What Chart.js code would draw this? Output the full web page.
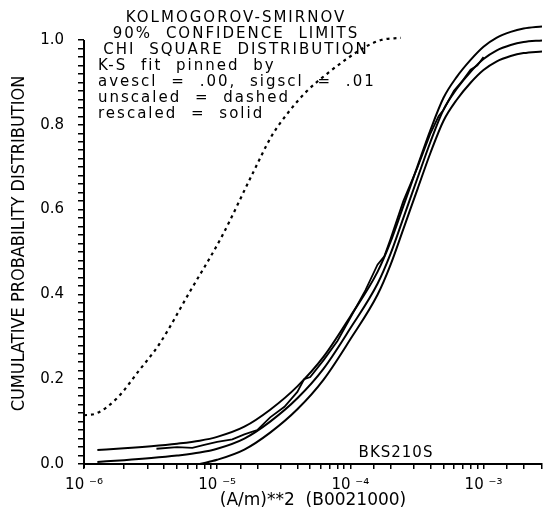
<!DOCTYPE html>
<html>
<head>
<meta charset="utf-8">
<script src="https://cdn.jsdelivr.net/npm/chart.js@4.4.0/dist/chart.umd.min.js"></script>
<style>
  html, body { margin: 0; padding: 0; background: #fff; }
  #wrap { width: 549px; height: 514px; }
</style>
</head>
<body>
<div id="wrap"><canvas id="ksChart"></canvas></div>
<script>
// ── K-S confidence limits, chi square fit ─────────────────────

// fitted curve and the two 90% limits share one x grid
const curveX  = [1.26e-6, 2e-6, 3.2e-6, 5e-6, 7.4e-6, 1e-5, 1.6e-5, 2.5e-5, 4e-5, 6.3e-5,
                 1e-4, 1.6e-4, 2e-4, 2.5e-4, 3.2e-4, 4e-4, 5e-4, 6.3e-4, 8e-4, 1e-3,
                 1.25e-3, 1.6e-3, 2e-3, 2.75e-3];
const fitY    = [0.005, 0.009, 0.014, 0.020, 0.027, 0.036, 0.060, 0.100, 0.155, 0.225,
                 0.320, 0.425, 0.495, 0.580, 0.675, 0.760, 0.835, 0.885, 0.925, 0.955,
                 0.975, 0.988, 0.995, 0.999];
const upperY  = [0.033, 0.037, 0.042, 0.048, 0.055, 0.064, 0.088, 0.128, 0.183, 0.253,
                 0.348, 0.453, 0.523, 0.608, 0.703, 0.788, 0.863, 0.913, 0.953, 0.984,
                 1.005, 1.019, 1.027, 1.032];
const lowerY  = [null, null, null, null, 0.000, 0.010, 0.034, 0.074, 0.129, 0.199,
                 0.294, 0.399, 0.469, 0.554, 0.649, 0.734, 0.809, 0.859, 0.899, 0.929,
                 0.949, 0.962, 0.969, 0.973];

// rescaled sample (solid, ragged)
const rescX   = [3.5e-6, 5e-6, 6.5e-6, 8e-6, 1e-5, 1.3e-5, 1.6e-5, 2e-5, 2.5e-5, 3.2e-5,
                 4e-5, 4.5e-5, 5e-5, 6.3e-5, 8e-5, 1e-4, 1.3e-4, 1.6e-4, 1.8e-4, 2e-4,
                 2.5e-4, 3.2e-4, 4e-4, 4.6e-4, 5e-4, 6e-4, 7e-4, 8e-4, 9e-4, 1e-3];
const rescY   = [0.036, 0.040, 0.038, 0.045, 0.052, 0.058, 0.070, 0.080, 0.110, 0.135,
                 0.170, 0.200, 0.205, 0.245, 0.290, 0.345, 0.410, 0.470, 0.490, 0.530,
                 0.620, 0.700, 0.780, 0.820, 0.835, 0.880, 0.905, 0.930, 0.940, 0.960];

// unscaled sample (dashed)
const unscX   = [1e-6, 1.23e-6, 1.78e-6, 2.57e-6, 3.7e-6, 6.2e-6, 1.09e-5, 1.82e-5, 2.57e-5,
                 3.44e-5, 4.6e-5, 6.85e-5, 9.66e-5, 1.3e-4, 1.7e-4, 2.4e-4];
const unscY   = [0.115, 0.119, 0.156, 0.219, 0.284, 0.405, 0.538, 0.681, 0.774,
                 0.830, 0.876, 0.923, 0.958, 0.984, 1.000, 1.005];

const yLabelTicks = [0.0, 0.2, 0.4, 0.6, 0.8, 1.0];
const yMinorStep  = 0.02;

const noteLinesCentered = ['KOLMOGOROV-SMIRNOV', '90% CONFIDENCE LIMITS', 'CHI SQUARE DISTRIBUTION'];
const noteLinesLeft     = ['K-S fit pinned by', 'avescl = .00, sigscl = .01',
                           'unscaled = dashed', 'rescaled = solid'];
const sampleTag = 'BKS210S';

const FONT = '"DejaVu Sans", sans-serif';
const SUP  = { '-': '\u207B', '0': '\u2070', '1': '\u00B9', '2': '\u00B2', '3': '\u00B3',
               '4': '\u2074', '5': '\u2075', '6': '\u2076', '7': '\u2077', '8': '\u2078', '9': '\u2079' };

function pts(xs, ys) {
  return xs.map((x, i) => ({ x: x, y: ys[i] }));
}

function supExp(n) {
  return String(n).split('').map(c => SUP[c] || c).join('');
}

const notesPlugin = {
  id: 'notes',
  afterDraw(chart) {
    const ctx = chart.ctx;
    const ys  = chart.scales.y;
    const left = chart.chartArea.left;
    ctx.save();
    // y axis line stops at 1.0
    ctx.strokeStyle = '#000';
    ctx.lineWidth = 2;
    ctx.beginPath();
    ctx.moveTo(left, ys.getPixelForValue(0) + 4);
    ctx.lineTo(left, ys.getPixelForValue(1.0));
    ctx.stroke();

    ctx.fillStyle = '#000';
    ctx.font = '15px ' + FONT;
    ctx.letterSpacing = '2px';
    ctx.wordSpacing = '7px';
    ctx.textBaseline = 'middle';
    ctx.textAlign = 'center';
    noteLinesCentered.forEach((t, i) => ctx.fillText(t, 236, 18 + i * 16));
    ctx.textAlign = 'left';
    noteLinesLeft.forEach((t, i) => ctx.fillText(t, 98, 66 + i * 16));
    ctx.letterSpacing = '1px';
    ctx.wordSpacing = '0px';
    ctx.textAlign = 'center';
    ctx.fillText(sampleTag, 396, 453);
    ctx.restore();
  }
};

const line = (data, extra) => Object.assign({
  data: data,
  borderColor: '#000',
  borderWidth: 2,
  pointRadius: 0,
  fill: false,
  cubicInterpolationMode: 'monotone'
}, extra || {});

new Chart(document.getElementById('ksChart'), {
  type: 'line',
  data: {
    datasets: [
      line(pts(curveX, upperY)),
      line(pts(curveX, fitY)),
      line(pts(curveX, lowerY)),
      line(pts(rescX, rescY), { borderWidth: 1.8, cubicInterpolationMode: 'default', tension: 0 }),
      line(pts(unscX, unscY), { borderDash: [3, 4], borderWidth: 2.2 })
    ]
  },
  options: {
    responsive: true,
    maintainAspectRatio: false,
    animation: false,
    devicePixelRatio: 1,
    layout: { padding: { top: 18, right: 0, bottom: 0, left: 0 } },
    plugins: { legend: { display: false }, tooltip: { enabled: false } },
    scales: {
      x: {
        type: 'logarithmic',
        min: 1e-6,
        max: 2.75e-3,
        border: { color: '#000', width: 2 },
        grid: { drawOnChartArea: false, drawTicks: true, tickLength: 5, color: '#000', lineWidth: 1.5 },
        ticks: {
          autoSkip: false, maxRotation: 0, color: '#000', padding: 7,
          font: { family: FONT, size: 15 },
          callback: v => {
            const e = Math.log10(v);
            return Math.abs(e - Math.round(e)) < 1e-9 ? '10 ' + supExp(Math.round(e)) : '';
          }
        },
        title: {
          display: true, text: '(A/m)**2  (B0021000)', color: '#000',
          font: { family: FONT, size: 17 }, padding: { top: 0, bottom: 3 }
        },
        afterFit: s => { s.height = 50; }
      },
      y: {
        type: 'linear',
        min: 0,
        max: 1.04,
        border: { display: false },
        grid: { drawOnChartArea: false, drawTicks: true, tickLength: 6, color: '#000', lineWidth: 1.5 },
        afterBuildTicks: s => {
          const t = [];
          for (let v = 0; v <= 1.0001; v += yMinorStep) t.push({ value: Math.round(v * 100) / 100 });
          s.ticks = t;
        },
        ticks: {
          autoSkip: false, color: '#000', padding: 14,
          font: { family: FONT, size: 15 },
          callback: v => yLabelTicks.some(l => Math.abs(l - v) < 1e-6) ? v.toFixed(1) : ''
        },
        title: {
          display: true, text: 'CUMULATIVE PROBABILITY DISTRIBUTION', color: '#000',
          font: { family: '"DejaVu Sans Condensed", "DejaVu Sans", sans-serif', size: 18 },
          padding: { top: 9, bottom: 0 }
        },
        afterFit: s => { s.width = 84; }
      }
    }
  },
  plugins: [notesPlugin]
});
</script>
</body>
</html>
